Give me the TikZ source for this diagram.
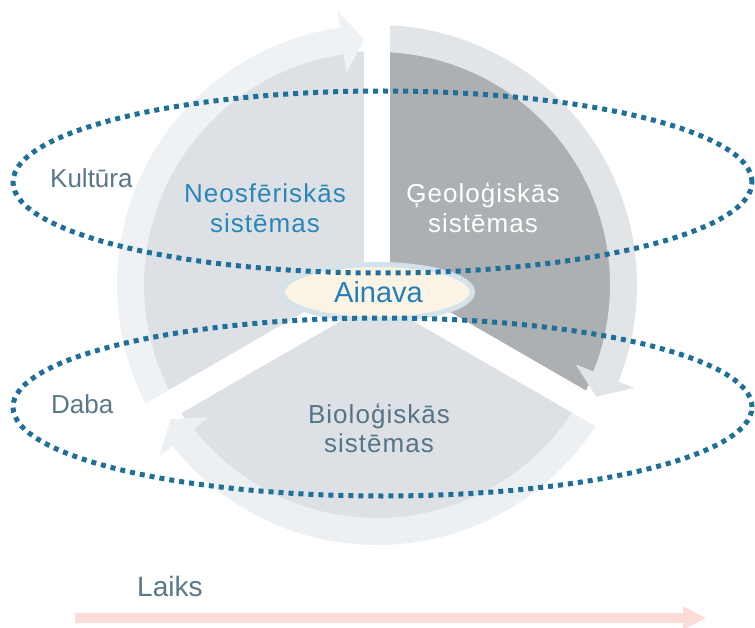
\documentclass[tikz,border=0pt]{standalone}
\usepackage{fontspec}
\setmainfont{Liberation Sans}
\newfontfamily\spacedfont[LetterSpace=4]{Liberation Sans}
\usetikzlibrary{arrows.meta}
\definecolor{neofill}{HTML}{DDE1E5}
\definecolor{geofill}{HTML}{ADB0B2}
\definecolor{biofill}{HTML}{DDE1E5}
\definecolor{ringneo}{HTML}{EFF2F4}
\definecolor{ringgeo}{HTML}{E2E5E8}
\definecolor{ringbio}{HTML}{EDF0F2}
\definecolor{dotblue}{HTML}{1F6F99}
\definecolor{neotext}{HTML}{2A86B9}
\definecolor{biotext}{HTML}{557586}
\definecolor{labeltext}{HTML}{5A7888}
\definecolor{ainavatext}{HTML}{2280B8}
\definecolor{ainavafill}{HTML}{FBF3E4}
\definecolor{ainavaborder}{HTML}{D4E2EA}
\definecolor{timearrow}{HTML}{FBDCD7}
% ring arrow: color, tail angle, tip angle, head-base angle
\newcommand\ringarrow[4]{%
  \fill[#1] (#2:260) arc[start angle=#2, end angle=#4, radius=260]
    -- (#4:277) -- (#3:246) -- (#4:214) -- (#4:233)
    arc[start angle=#4, end angle=#2, radius=233] -- cycle;}
\begin{document}
\begin{tikzpicture}[x=1pt,y=1pt,
  lbl/.style={inner sep=0pt, text=labeltext, font=\fontsize{26}{30}\selectfont},
  systxt/.style={inner sep=0pt, font=\spacedfont\fontsize{26}{30}\selectfont},
  dotline/.style={draw=dotblue, line width=5pt, dash pattern=on 5pt off 5pt},
  gapbar/.style={draw=white, line width=26pt}]
\useasboundingbox (0,0) rectangle (755,-628);
\fill[white] (0,0) rectangle (755,-628);
% disk, ring and gaps
\begin{scope}[shift={(377,-285)}]
  \fill[neofill] (0,0) -- (90:234) arc[start angle=90, end angle=210, radius=234] -- cycle;
  \fill[geofill] (0,0) -- (-30:234) arc[start angle=-30, end angle=90, radius=234] -- cycle;
  \fill[biofill] (0,0) -- (210:234) arc[start angle=210, end angle=330, radius=234] -- cycle;
  \ringarrow{ringneo}{210}{93.03}{98.2}
  \ringarrow{ringgeo}{90}{-26.97}{-21.8}
  \ringarrow{ringbio}{330}{213.03}{218.2}
  \coordinate (c) at (0,0);
  \coordinate (g1) at (90:285);
  \coordinate (g2) at (210:285);
  \coordinate (g3) at (330:285);
  \draw[gapbar] (c) -- (g1);
  \draw[gapbar] (c) -- (g2);
  \draw[gapbar] (c) -- (g3);
\end{scope}
% centre
\fill[ainavafill, draw=ainavaborder, line width=5pt] (377.5,-292) ellipse[x radius=95, y radius=27.5];
% dotted ellipses
\draw[dotline] (382.5,-182) ellipse[x radius=369.5, y radius=91];
\draw[dotline] (382.5,-407) ellipse[x radius=369.5, y radius=89];
% texts
\node[inner sep=0pt, anchor=base, text=ainavatext, font=\fontsize{29}{32}\selectfont] (ainava) at (378.5,-302.7) {Ainava};
\node[systxt, text=neotext, anchor=base] (neo1) at (265,-203) {Neosfēriskās};
\node[systxt, text=neotext, anchor=base] (neo2) at (265,-233) {sistēmas};
\node[systxt, text=white, anchor=base] (geo1) at (483,-203) {Ģeoloģiskās};
\node[systxt, text=white, anchor=base] (geo2) at (483,-233) {sistēmas};
\node[systxt, text=biotext, anchor=base] (bio1) at (379,-423) {Bioloģiskās};
\node[systxt, text=biotext, anchor=base] (bio2) at (379,-452) {sistēmas};
\node[lbl, anchor=base west] (kultura) at (50,-188) {Kultūra};
\node[lbl, anchor=base west] (daba) at (51,-413) {Daba};
\node[lbl, anchor=base west, font=\fontsize{28}{32}\selectfont] (laiks) at (137,-596) {Laiks};
% time arrow
\coordinate (tstart) at (75,-618);
\coordinate (tend) at (706,-618);
\draw[timearrow, line width=10pt, -{Triangle[length=23pt,width=22pt]}] (tstart) -- (tend);
\end{tikzpicture}
\end{document}
